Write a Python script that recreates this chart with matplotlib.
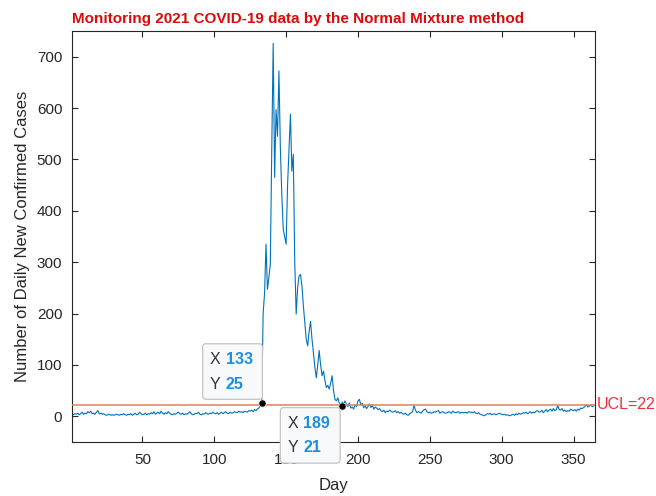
"""Normal Mixture monitoring chart of daily new COVID-19 cases in 2021 (MATLAB-style)."""

import matplotlib

matplotlib.use("Agg")
import matplotlib.pyplot as plt
import matplotlib.transforms as mtransforms
import numpy as np
from matplotlib.patches import FancyBboxPatch

# daily new confirmed cases
cases_001_132 = [
    4, 3, 5, 4, 6, 3, 5, 8, 4, 6, 5, 9, 7, 10, 5, 6, 4, 8, 11, 5,
    6, 4, 5, 3, 2, 3, 4, 2, 3, 2, 3, 4, 3, 2, 4, 3, 5, 3, 2, 4,
    3, 5, 2, 4, 6, 3, 4, 8, 5, 3, 4, 6, 3, 5, 4, 7, 5, 9, 4, 6,
    8, 5, 10, 6, 4, 7, 5, 9, 6, 4, 3, 5, 4, 6, 8, 5, 4, 6, 3, 5,
    4, 6, 9, 5, 3, 4, 6, 5, 8, 4, 3, 5, 4, 7, 5, 4, 6, 5, 8, 6,
    5, 7, 4, 6, 8, 5, 7, 9, 6, 5, 8, 6, 7, 9, 8, 7, 10, 8, 9, 7,
    10, 9, 8, 11, 10, 12, 9, 13, 11, 14, 16, 20,
]
cases_133_189 = [
    25, 200, 240, 335, 247, 270, 296, 520, 726, 465,
    597, 545, 672, 520, 430, 364, 350, 335, 450, 520,
    588, 477, 510, 300, 199, 250, 273, 276, 254, 215,
    182, 150, 137, 165, 185, 150, 124, 95, 75, 100,
    128, 100, 79, 88, 70, 56, 60, 53, 65, 79,
    50, 33, 30, 36, 25, 21,
]
cases_190_365 = [
    28, 24, 30, 23, 19, 26, 16, 18, 14, 22, 19,
    30, 33, 22, 25, 17, 20, 15, 19, 24, 17, 22, 14, 18, 16, 13, 15, 11, 9, 12, 7,
    10, 9, 12, 10, 8, 9, 11, 7, 9, 6, 8, 5, 4, 6, 3, 2, 5, 7, 9, 21,
    12, 7, 9, 8, 6, 10, 13, 14, 9, 7, 8, 6, 7, 9, 8, 10, 11, 6, 8, 9,
    7, 6, 7, 9, 8, 6, 10, 8, 7, 8, 9, 6, 8, 7, 7, 8, 6, 9, 8, 8,
    7, 9, 6, 5, 7, 4, 3, 2, 1, 3, 5, 4, 6, 3, 4, 5, 3, 4, 6, 5,
    4, 3, 4, 2, 3, 2, 1, 3, 4, 2, 5, 3, 6, 4, 5, 7, 6, 8, 5, 7,
    9, 6, 8, 7, 10, 11, 8, 9, 12, 7, 10, 13, 9, 12, 14, 10, 15, 11, 13, 21,
    13, 12, 15, 10, 12, 9, 11, 10, 14, 12, 11, 13, 10, 14, 12, 16, 15, 17, 19, 23,
    18, 20, 22, 19, 20,
]
cases = cases_001_132 + cases_133_189 + cases_190_365
days = list(range(1, len(cases) + 1))

UCL = 22
tip_days = [133, 189]
tip_values = [25, 21]

TITLE = "Monitoring 2021 COVID-19 data by the Normal Mixture method"
FONT = ["Liberation Sans", "DejaVu Sans"]
AX_COLOR = "#262626"
LINE_BLUE = "#0072BD"
TIP_BLUE = "#1E8FE0"


def datatip(ax, x, y, box_x, box_y, w=43.0, h=40.0):
    """MATLAB-like datatip; box offsets and size in points relative to the point."""
    fig = ax.figure
    trans = mtransforms.Affine2D().scale(fig.dpi / 72.0) + mtransforms.ScaledTranslation(x, y, ax.transData)
    box = FancyBboxPatch(
        (box_x, box_y), w, h,
        boxstyle="round,pad=0,rounding_size=2.5",
        transform=trans, facecolor="#F8F9FA", edgecolor="#C4C4C4",
        linewidth=0.9, clip_on=False, zorder=5,
    )
    ax.add_patch(box)
    rows = [("X", str(x), box_y + h - 11.5), ("Y", str(y), box_y + 11.0)]
    for name, val, ty in rows:
        ax.text(x, y, name, transform=mtransforms.offset_copy(ax.transData, fig, x=box_x + 5, y=ty, units="points"),
                ha="left", va="center", fontsize=11.5, color="#333333", family=FONT, zorder=6, clip_on=False)
        ax.text(x, y, val, transform=mtransforms.offset_copy(ax.transData, fig, x=box_x + 16.5, y=ty, units="points"),
                ha="left", va="center", fontsize=11.5, color=TIP_BLUE, fontweight="bold", family=FONT,
                zorder=6, clip_on=False)
    ax.plot([x], [y], "o", color="black", markersize=5.2, markeredgecolor="#F0E0D0",
            markeredgewidth=0.5, zorder=7, clip_on=False)


def main() -> None:
    plt.rcParams["font.family"] = FONT
    fig = plt.figure(figsize=(6.56, 4.96), dpi=100)
    rect = [0.1098, 0.1089, 0.7973, 0.8286]
    ax = fig.add_axes(rect)

    ax.plot(days, cases, color=LINE_BLUE, linewidth=0.8, zorder=2)
    ax.axhline(UCL, color="#E3805A", linewidth=1.1, zorder=3)

    ax.set_xlim(1, 365)
    ax.set_ylim(-50, 750)
    ax.set_xticks(np.arange(50, 351, 50))
    ax.set_yticks(np.arange(0, 701, 100))
    ax.tick_params(direction="in", top=True, right=True, length=4, width=0.8,
                   colors=AX_COLOR, labelsize=11)
    ax.tick_params(axis="x", pad=8)
    ax.tick_params(axis="y", pad=7)
    for sp in ax.spines.values():
        sp.set_color(AX_COLOR)
        sp.set_linewidth(0.8)

    ax.set_xlabel("Day", fontsize=12, color=AX_COLOR, labelpad=8)
    ax.set_ylabel("Number of Daily New Confirmed Cases", fontsize=12, color=AX_COLOR, labelpad=5)
    ax.set_title(TITLE, loc="left", fontsize=11, fontweight="bold", color="#DC0A0A", pad=6)

    ax.text(1.003, UCL, "UCL=22", transform=ax.get_yaxis_transform(), ha="left", va="center",
            fontsize=11.5, color="#F0303A", clip_on=False)

    # datatips live on a transparent overlay so they cover the tick labels
    tips = fig.add_axes(rect, sharex=ax, sharey=ax)
    tips.set_axis_off()
    tips.patch.set_visible(False)
    datatip(tips, tip_days[0], tip_values[0], box_x=-42.5, box_y=3.0)
    datatip(tips, tip_days[1], tip_values[1], box_x=-44.5, box_y=-41.5)

    fig.savefig("out.png", dpi=100)
    plt.close(fig)


if __name__ == "__main__":
    main()
